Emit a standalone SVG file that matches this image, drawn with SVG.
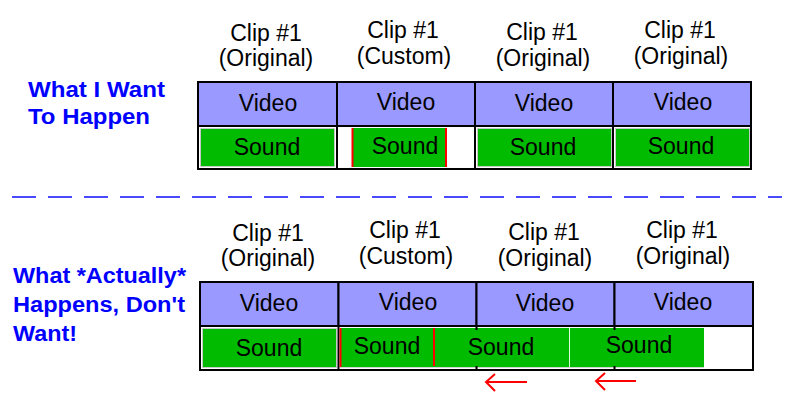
<svg xmlns="http://www.w3.org/2000/svg" width="800" height="400" viewBox="0 0 800 400">
<style>
.t{font-family:"Liberation Sans",Arial,sans-serif;font-size:23px;fill:#000;text-anchor:middle}
.h{font-family:"Liberation Sans",Arial,sans-serif;font-size:22px;font-weight:bold;fill:#0000ff}
.vid{fill:#9999ff;stroke:#000;stroke-width:2}
.snd{fill:#ffffff;stroke:#000;stroke-width:2}
.g{fill:#00bb00;stroke:#c8c8c8;stroke-width:1}
.gn{fill:#00bb00}
.red{stroke:#ff0000;stroke-width:2;fill:none}
.tick{stroke:#000;stroke-width:2}
</style>
<rect width="800" height="400" fill="#fff"/>
<g id="label-want">
<text class="h" x="28" y="97" textLength="137" lengthAdjust="spacingAndGlyphs">What I Want</text>
<text class="h" x="28" y="124" textLength="122" lengthAdjust="spacingAndGlyphs">To Happen</text>
</g>
<g id="label-actual">
<text class="h" x="13" y="283" textLength="173" lengthAdjust="spacingAndGlyphs">What *Actually*</text>
<text class="h" x="13" y="312" textLength="172" lengthAdjust="spacingAndGlyphs">Happens, Don't</text>
<text class="h" x="13" y="341" textLength="64" lengthAdjust="spacingAndGlyphs">Want!</text>
</g>
<g id="top-headers">
<text class="t" x="266" y="41">Clip #1</text><text class="t" x="266" y="66">(Original)</text>
<text class="t" x="403" y="38">Clip #1</text><text class="t" x="404" y="64">(Custom)</text>
<text class="t" x="542" y="40">Clip #1</text><text class="t" x="543" y="66">(Original)</text>
<text class="t" x="680" y="38">Clip #1</text><text class="t" x="681" y="64">(Original)</text>
</g>
<g id="top-timeline">
<rect class="snd" x="198" y="126" width="553" height="43"/>
<rect class="vid" x="198" y="82" width="139" height="44"/>
<rect class="vid" x="337" y="82" width="138" height="44"/>
<rect class="vid" x="475" y="82" width="138" height="44"/>
<rect class="vid" x="613" y="82" width="138" height="44"/>
<line class="tick" x1="337" y1="126" x2="337" y2="169"/>
<line class="tick" x1="475" y1="126" x2="475" y2="169"/>
<line class="tick" x1="613" y1="126" x2="613" y2="169"/>
<rect class="g" x="200.5" y="128.5" width="134" height="38"/>
<rect class="gn" x="352" y="128" width="95" height="39"/>
<line class="red" x1="352.5" y1="128" x2="352.5" y2="167"/>
<line class="red" x1="446" y1="128" x2="446" y2="167"/>
<rect class="g" x="477.5" y="128.5" width="134" height="38"/>
<rect class="g" x="615.5" y="128.5" width="134" height="38"/>
<text class="t" x="268" y="111">Video</text>
<text class="t" x="406" y="110">Video</text>
<text class="t" x="544" y="111">Video</text>
<text class="t" x="683" y="110">Video</text>
<text class="t" x="267" y="155">Sound</text>
<text class="t" x="405" y="154">Sound</text>
<text class="t" x="543" y="155">Sound</text>
<text class="t" x="681" y="154">Sound</text>
</g>
<g id="divider">
<line x1="12" y1="197" x2="782" y2="197" stroke="#4a4aff" stroke-width="2" stroke-dasharray="24 12"/>
</g>
<g id="bottom-headers">
<text class="t" x="268" y="241">Clip #1</text><text class="t" x="268" y="266">(Original)</text>
<text class="t" x="405" y="238">Clip #1</text><text class="t" x="406" y="264">(Custom)</text>
<text class="t" x="544" y="240">Clip #1</text><text class="t" x="545" y="266">(Original)</text>
<text class="t" x="682" y="238">Clip #1</text><text class="t" x="683" y="264">(Original)</text>
</g>
<g id="bottom-timeline">
<rect class="snd" x="200" y="326" width="553" height="44"/>
<rect class="vid" x="200" y="282" width="138.5" height="44"/>
<rect class="vid" x="338.5" y="282" width="138" height="44"/>
<rect class="vid" x="476.5" y="282" width="138" height="44"/>
<rect class="vid" x="614.5" y="282" width="138.5" height="44"/>
<line class="tick" x1="338.5" y1="326" x2="338.5" y2="370"/>
<rect class="g" x="202.5" y="328.5" width="134" height="39"/>
<rect class="gn" x="340" y="328" width="94" height="39"/>
<line stroke="#d0d0d0" stroke-width="1" x1="340" y1="367.5" x2="434" y2="367.5"/>
<rect class="gn" x="434" y="328" width="135" height="39"/>
<rect class="gn" x="570" y="328" width="134" height="39"/>
<line stroke="#d8ffd8" stroke-width="1" x1="569.5" y1="328" x2="569.5" y2="367"/>
<line stroke="#d0d0d0" stroke-width="1" x1="434" y1="367.5" x2="704" y2="367.5"/>
<line class="red" x1="340.5" y1="328" x2="340.5" y2="367"/>
<line class="red" x1="434" y1="328" x2="434" y2="366"/>
<line class="tick" x1="476.5" y1="326" x2="476.5" y2="330"/>
<line class="tick" x1="476.5" y1="366" x2="476.5" y2="370"/>
<line class="tick" x1="614.5" y1="326" x2="614.5" y2="330"/>
<line class="tick" x1="614.5" y1="366" x2="614.5" y2="370"/>
<text class="t" x="269" y="311">Video</text>
<text class="t" x="408" y="310">Video</text>
<text class="t" x="545" y="311">Video</text>
<text class="t" x="683" y="310">Video</text>
<text class="t" x="269" y="356">Sound</text>
<text class="t" x="387" y="354">Sound</text>
<text class="t" x="501" y="355">Sound</text>
<text class="t" x="639" y="353">Sound</text>
</g>
<g id="arrows">
<path class="red" d="M527,382 L486,382 M495,374 L486,382 L495,391"/>
<path class="red" d="M636,381 L596,381 M605,373 L596,381 L605,390"/>
</g>
</svg>
